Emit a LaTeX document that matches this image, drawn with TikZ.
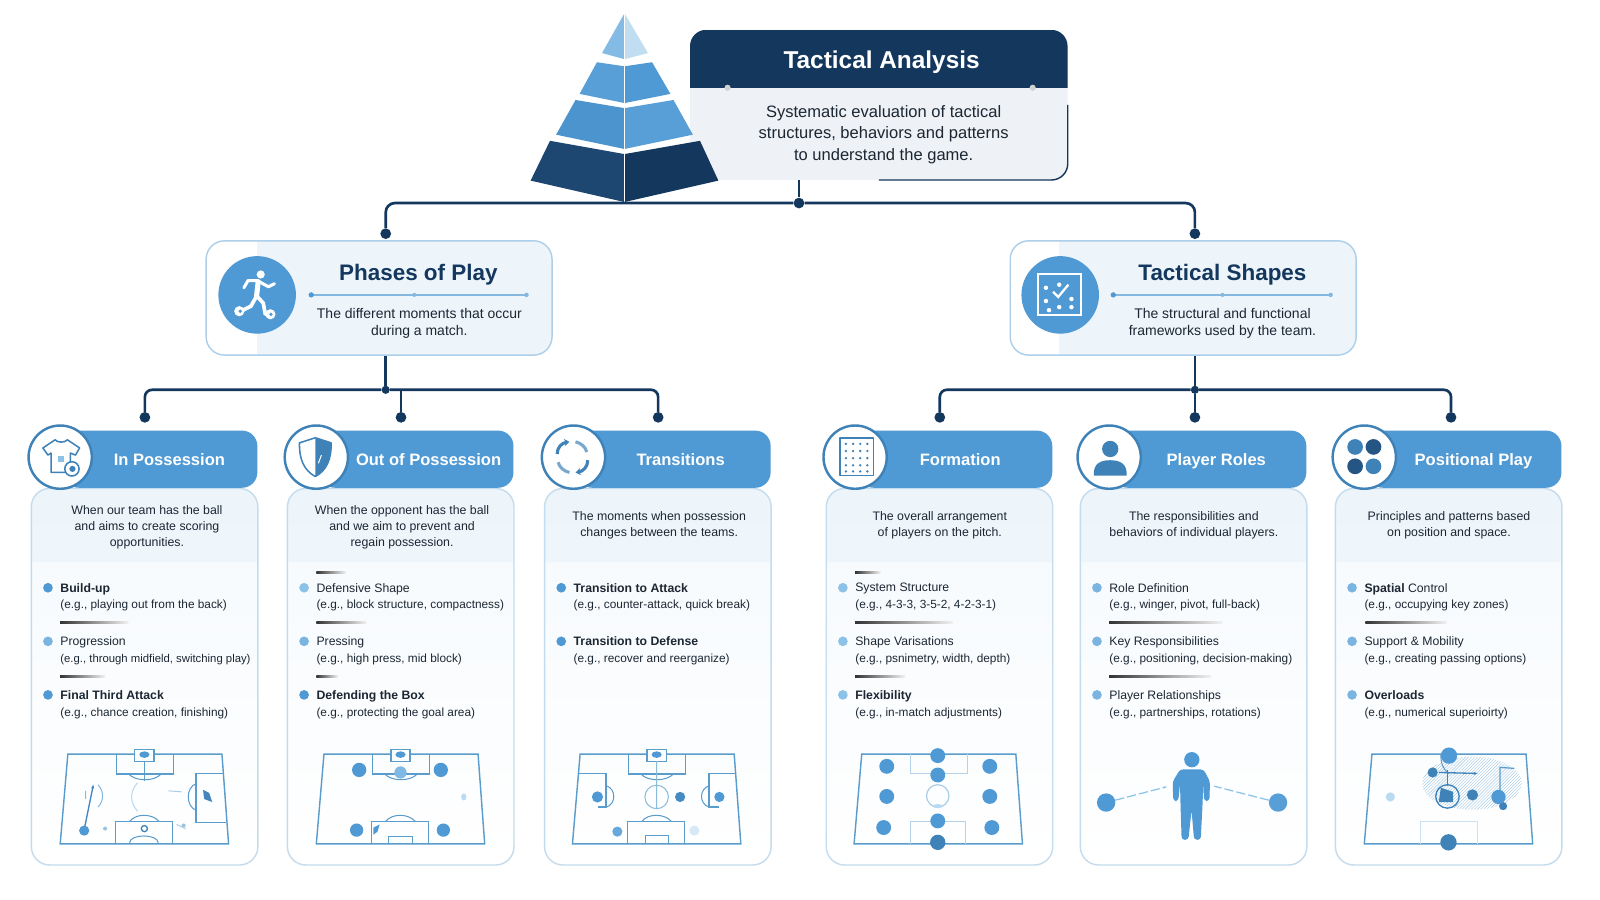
\documentclass[tikz,border=0pt]{standalone}
\usepackage{fontspec}
\setmainfont{Liberation Sans}
\usetikzlibrary{
    arrows.meta,
    calc,
    patterns
}
\definecolor{navy}{HTML}{14375E}
\definecolor{bandblue}{HTML}{4F99D4}
\definecolor{token}{HTML}{4F99D4}
\definecolor{ringblue}{HTML}{3F82B8}
\definecolor{softblue}{HTML}{8CC1E8}
\definecolor{cardedge}{HTML}{C4DCEE}
\definecolor{paleblue}{HTML}{EDF5FB}
\definecolor{pitchblue}{HTML}{5A9CCC}
\definecolor{ink}{HTML}{1C2733}
\definecolor{greybody}{HTML}{EEF1F5}
\newcommand{\exfont}{\fontsize{11.6}{16.3}\selectfont}

\begin{document}
\begin{tikzpicture}[
        x=1pt, y=-1pt,
        link/.style={draw=navy, line width=2.6pt},
        linkdot/.style={circle, fill=navy, inner sep=0pt, minimum size=10.5pt},
        hubdot/.style={circle, fill=navy, inner sep=0pt, minimum size=8pt},
        phasebox/.style={rectangle, rounded corners=18pt, draw=cardedge!80!bandblue, line width=1.4pt, fill=white, minimum width=339pt, minimum height=112pt, inner sep=0pt},
        phasehead/.style={font=\fontsize{22}{26}\selectfont\bfseries, text=navy, inner sep=0pt},
        phasetext/.style={font=\fontsize{13.7}{17}\selectfont, text=ink, align=center, inner sep=0pt},
        phaseicon/.style={circle, fill=bandblue, inner sep=0pt, minimum size=76pt},
        cardbox/.style={rectangle, rounded corners=18pt, draw=cardedge, line width=1.4pt, fill=white, minimum width=222pt, minimum height=369pt, anchor=north west, inner sep=0pt},
        band/.style={rectangle, rounded corners=15pt, fill=bandblue, minimum width=190pt, minimum height=56pt, anchor=west, inner sep=0pt},
        bandtext/.style={font=\fontsize{16.2}{20}\selectfont\bfseries, text=white, inner sep=0pt, anchor=base},
        iconring/.style={circle, fill=white, draw=ringblue, line width=2.4pt, minimum size=62pt, inner sep=0pt},
        cardtext/.style={font=\fontsize{12.1}{15.6}\selectfont, text=ink, align=center, inner sep=0pt},
        itemtext/.style={font=\fontsize{12}{16.3}\selectfont, text=ink, align=left, anchor=north west, inner sep=0pt},
        bullet/.style={circle, inner sep=0pt, minimum size=9.5pt},
        pitch/.style={draw=pitchblue, line width=1.4pt},
        iconline/.style={draw=ringblue, line width=1.5pt, line join=round}
    ]
    \useasboundingbox (0,0) rectangle (1568,882);
    \fill[white] (0,0) rectangle (1568,882);

    \node[rectangle, rounded corners=16pt, fill=greybody, minimum width=370pt, minimum height=147pt, anchor=north west, inner sep=0pt,
        path picture={\fill[navy, sharp corners] (path picture bounding box.north west) rectangle ([yshift=-57pt]path picture bounding box.north east);}] (titlebox) at (676,29) {};
    \draw[navy, line width=1.4pt, rounded corners=16pt] (titlebox.east) -- (titlebox.south east) -- (titlebox.south);
    \fill[gray!35] (713,86) circle (3pt) (1012,86) circle (3pt);
    \node[font=\fontsize{23.9}{28}\selectfont\bfseries, text=white, inner sep=0pt] (titlehead) at (864,61) {Tactical Analysis};
    \node[font=\fontsize{16.2}{21}\selectfont, text=ink, align=center, inner sep=0pt] (titletext) at (866,132) {Systematic evaluation of tactical\\structures, behaviors and patterns\\to understand the game.};

    \fill[softblue!85!bandblue] (612,13) -- (590,52) -- (612,58) -- cycle;
    \fill[softblue!55] (612,13) -- (635,52) -- (612,58) -- cycle;
    \fill[bandblue!85!softblue] (585,61) -- (612,65) -- (612,101) -- (568,92) -- cycle;
    \fill[bandblue] (639,61) -- (612,65) -- (612,101) -- (657,92) -- cycle;
    \fill[bandblue!95!navy] (564,98) -- (612,106) -- (612,146) -- (545,132) -- cycle;
    \fill[bandblue!85!softblue] (660,98) -- (612,106) -- (612,146) -- (679,132) -- cycle;
    \fill[navy!85!bandblue] (539,138) -- (612,151) -- (612,198) -- (520,177) -- cycle;
    \fill[navy] (686,138) -- (612,151) -- (612,198) -- (704,177) -- cycle;
    \draw[white, line width=0.8pt] (612,13) -- (612,198);

    \node[linkdot] (hubtop) at (783,199) {};
    \node[linkdot] (dotphase) at (378,229) {};
    \node[linkdot] (dotshape) at (1171,229) {};
    \draw[link] (titlebox.south -| hubtop) -- (hubtop);
    \draw[link, rounded corners=9pt] (hubtop) -| (dotphase);
    \draw[link, rounded corners=9pt] (hubtop) -| (dotshape);

    \node[phasebox, path picture={\fill[paleblue, sharp corners] ([xshift=50pt]path picture bounding box.south west) rectangle (path picture bounding box.north east);}] (phases) at (371.5,292) {};
    \node[phasebox, path picture={\fill[paleblue, sharp corners] ([xshift=48pt]path picture bounding box.south west) rectangle (path picture bounding box.north east);}] (shapes) at (1159.5,292) {};
    \node[phaseicon] (phaseicon) at (252,289) {};
    \node[phaseicon] (shapeicon) at (1039,289) {};
    \node[phasehead] (phasehead) at (410,269) {Phases of Play};
    \node[phasehead] (shapehead) at (1198,269) {Tactical Shapes};
    \node[phasetext] (phasetext) at (411,317) {The different moments that occur\\during a match.};
    \node[phasetext] (shapetext) at (1198,317) {The structural and functional\\frameworks used by the team.};
    \draw[bandblue!70, line width=1.2pt] (305,289) -- (516,289);
    \draw[bandblue!70, line width=1.2pt] (1091,289) -- (1304,289);
    \fill[bandblue] (305,289) circle (2.6pt);
    \fill[bandblue!70] (406,289) circle (2pt) (516,289) circle (2.2pt);
    \fill[bandblue] (1091,289) circle (2.6pt);
    \fill[bandblue!70] (1198,289) circle (2pt) (1304,289) circle (2.2pt);

    \fill[white] (255.5,269) circle (4pt);
    \draw[white, line width=5pt, line cap=round, line join=round] (253,276) -- (251.5,290);
    \draw[white, line width=3pt, line cap=round, line join=round] (253,275) -- (243,275) -- (239,282) (254,276) -- (263,281) -- (269,278);
    \draw[white, line width=3.6pt, line cap=round, line join=round] (251.5,290) -- (258,297) -- (260,308) (251,291) -- (246,300) -- (238,304);
    \fill[white] (234.5,305) circle (5pt) (265,308) circle (5pt);
    \fill[bandblue] (235.5,305) circle (1.8pt) (265.5,308) circle (1.8pt);

    \draw[white, line width=2.2pt] (1017,268.5) rectangle (1059,309);
    \foreach \px/\py in {1025/282, 1038/279, 1025/295, 1038/301, 1050/301, 1028/304, 1050/293}
        \fill[white] (\px,\py) circle (2.2pt);
    \draw[white, line width=2.2pt] (1032,286) -- (1037,291) -- (1047,279);

    \node[hubdot] (hubleft) at (378,382) {};
    \node[hubdot] (hubright) at (1171,382) {};
    \node[linkdot] (dotposs) at (142,409) {};
    \node[linkdot] (dotout) at (393,409) {};
    \node[linkdot] (dottrans) at (645,409) {};
    \node[linkdot] (dotform) at (921,409) {};
    \node[linkdot] (dotrole) at (1171,409) {};
    \node[linkdot] (dotplay) at (1422,409) {};
    \draw[link] (phases.south -| hubleft) -- (hubleft);
    \draw[link] (shapes.south -| hubright) -- (hubright);
    \draw[link, rounded corners=7pt] (hubleft) -| (dotposs);
    \draw[link, rounded corners=7pt] (hubleft) -| (dottrans);
    \draw[link] (hubleft -| dotout) -- (dotout);
    \draw[link, rounded corners=7pt] (hubright) -| (dotform);
    \draw[link, rounded corners=7pt] (hubright) -| (dotplay);
    \draw[link] (hubright) -- (dotrole);

    \foreach \n/\xl/\xt/\lbl in {1/30/166/In Possession, 2/281/420/Out of Possession, 3/533/667/Transitions, 4/809/941/Formation, 5/1058/1192/Player Roles, 6/1308/1444/Positional Play} {
        \pgfmathsetmacro{\bx}{\xl+32}
        \pgfmathsetmacro{\cx}{\xl+29}
        \node[cardbox, path picture={
            \shade[sharp corners, top color=paleblue, bottom color=paleblue!70] (path picture bounding box.north west) rectangle ([yshift=-73pt]path picture bounding box.north east);
            \shade[sharp corners, top color=paleblue!45, bottom color=white] ([yshift=-73pt]path picture bounding box.north west) rectangle (path picture bounding box.south east);}] (card\n) at (\xl,478) {};
        \node[band] (band\n) at (\bx,450) {};
        \node[iconring] (icon\n) at (\cx,448) {};
        \node[bandtext] (head\n) at (\xt,456) {\lbl};
    }

    \foreach \n/\cx/\cy/\txt in {1/144/516.5/{When our team has the ball\\and aims to create scoring\\opportunities.},
            2/394/516.5/{When the opponent has the ball\\and we aim to prevent and\\regain possession.},
            3/646/514.5/{The moments when possession\\changes between the teams.},
            4/921/514.5/{The overall arrangement\\of players on the pitch.},
            5/1170/514.5/{The responsibilities and\\behaviors of individual players.},
            6/1420/514.5/{Principles and patterns based\\on position and space.}} {
        \node[cardtext] (desc\n) at (\cx,\cy) {\txt};
    }

    \foreach \n/\xl/\yy/\col/\hd/\ex in {
            11/30/571.5/bandblue/{\textbf{Build-up}}/{(e.g., playing out from the back)},
            12/30/624/softblue!70!bandblue/{Progression}/{\fontsize{11.1}{16.3}\selectfont(e.g., through midfield, switching play)},
            13/30/676.5/bandblue/{\textbf{Final Third Attack}}/{(e.g., chance creation, finishing)},
            21/281/571.5/softblue/{Defensive Shape}/{(e.g., block structure, compactness)},
            22/281/624/softblue!70!bandblue/{Pressing}/{(e.g., high press, mid block)},
            23/281/676.5/bandblue/{\textbf{Defending the Box}}/{(e.g., protecting the goal area)},
            31/533/571.5/bandblue/{\textbf{Transition to Attack}}/{(e.g., counter-attack, quick break)},
            32/533/624/bandblue/{\textbf{Transition to Defense}}/{(e.g., recover and reerganize)},
            41/809/571.5/softblue/{System Structure}/{(e.g., 4-3-3, 3-5-2, 4-2-3-1)},
            42/809/624/softblue/{Shape Varisations}/{(e.g., psnimetry, width, depth)},
            43/809/676.5/softblue/{\textbf{Flexibility}}/{(e.g., in-match adjustments)},
            51/1058/571.5/softblue!70!bandblue/{Role Definition}/{(e.g., winger, pivot, full-back)},
            52/1058/624/softblue!70!bandblue/{Key Responsibilities}/{(e.g., positioning, decision-making)},
            53/1058/676.5/softblue!70!bandblue/{Player Relationships}/{(e.g., partnerships, rotations)},
            61/1308/571.5/softblue!70!bandblue/{\textbf{Spatial} Control}/{(e.g., occupying key zones)},
            62/1308/624/softblue!70!bandblue/{Support \& Mobility}/{(e.g., creating passing options)},
            63/1308/676.5/softblue!70!bandblue/{\textbf{Overloads}}/{(e.g., numerical superioirty)}} {
        \node[bullet, fill=\col] (mark\n) at ($(\xl,\yy)+(17,4.5)$) {};
        \node[itemtext] (item\n) at ($(\xl,\yy)+(29,0)$) {\hd\\\exfont\ex};
    }

    \foreach \xa/\xb/\yy in {59/126/610, 59/103/663, 310/339/561, 310/359/610, 310/331/663, 838/863/561, 838/934/610, 838/887/663, 1087/1198/610, 1087/1187/663, 1338/1418/610} {
        \shade[left color=black!80, middle color=black!30, right color=black!5] (\xa,\yy-0.7) rectangle (\xb,\yy+0.7);
    }

    \foreach \a in {59,310,561,837,1337} {
        \draw[pitch, shift={(\a,0)}] (7.5,739) -- (158.5,739) -- (165,827) -- (0,827) -- cycle;
    }
    \foreach \a in {59,310,561} {
        \draw[pitch, shift={(\a,0)}] (55,739) -- (55,758.5) -- (111,758.5) -- (111,739);
        \fill[white, shift={(\a,0)}] (73,734.5) rectangle (92,746.5);
        \draw[pitch, shift={(\a,0)}] (73,734.5) rectangle (92,746.5);
        \fill[token, shift={(\a,0)}] (82.5,739.5) ellipse [x radius=5, y radius=3.2];
        \draw[pitch, shift={(\a,0)}] (54,827) -- (54,805) -- (110,805) -- (110,827);
        \draw[pitch, line width=1pt, shift={(\a,0)}] (67,758.5) .. controls (74,766) and (92,766) .. (99,758.5);
        \draw[pitch, line width=1pt, shift={(\a,0)}] (68,805) .. controls (74,797) and (90,797) .. (97,805);
    }

    \draw[pitch, line width=1pt] (141.5,746.5) -- (141.5,765);
    \draw[pitch] (219,758) -- (192,758) -- (192,806) -- (221,806);
    \draw[pitch, line width=1pt] (192,768) .. controls (182,772) and (182,790) .. (192,794);
    \fill[token!80!navy] (199,774) -- (205,777) -- (208,786) -- (200,783) -- cycle;
    \draw[pitchblue!40, line width=1pt] (135,767) .. controls (127,775) and (127,787) .. (135,795);
    \draw[pitchblue!70, line width=1pt] (96,769) .. controls (102,775) and (102,785) .. (96,791) (84,775) -- (84,783);
    \draw[token!80!navy, line width=1.3pt, -{Stealth[length=4pt]}] (82.5,813) -- (91.5,769);
    \fill[token] (82.5,814) circle (5pt);
    \draw[pitch, line width=1pt] (127,826) .. controls (127,817) and (155,817) .. (155,826);
    \draw[ringblue, line width=1.3pt] (141.5,812) circle (3pt);
    \fill[pitchblue!60] (103,812) circle (2pt) (180,809) circle (2pt);
    \draw[pitchblue!50, line width=1pt] (165,775) -- (178,776) (173,808) -- (182,812);

    \fill[token] (352,754.5) circle (7pt) (432,754.5) circle (7pt) (349.5,813.5) circle (6.5pt) (434.5,813.5) circle (6.5pt);
    \fill[softblue!80!bandblue] (392.5,757) circle (6pt);
    \draw[pitch, line width=1pt] (380.5,827) -- (380.5,820) -- (404.5,820) -- (404.5,827);
    \fill[softblue!60] (454.5,781) ellipse [x radius=2.5, y radius=3.5];
    \fill[token] (366,811) -- (372,808) -- (370,815) -- (366,818) -- cycle;

    \draw[pitch] (567.5,758) -- (594,758) -- (594,791) -- (586,791) (720,758) -- (695,758) -- (695,791) -- (705,791);
    \draw[pitch, line width=1pt] (594,770) .. controls (604,773) and (604,788) .. (594,791);
    \draw[pitch, line width=1pt] (695,770) .. controls (685,773) and (685,788) .. (695,791);
    \draw[pitchblue!70, line width=1pt] (643.5,781) circle (11.5pt) (643.5,746) -- (643.5,792);
    \draw[pitch, line width=1pt] (632.5,827) -- (632.5,819) -- (655,819) -- (655,827);
    \fill[token] (585.5,781) circle (5.5pt) (705,781) circle (5pt);
    \fill[token!85!navy] (666.5,781) circle (5pt);
    \fill[token!85] (605,815) circle (5pt);
    \fill[softblue!35] (680.5,814) circle (5pt);

    \draw[pitchblue!45, line width=1pt] (892,739) -- (892,758) -- (948,758) -- (948,739) (892,827) -- (892,805) -- (946,805) -- (946,827);
    \draw[pitchblue!50, line width=1.2pt] (919,780) circle (11pt);
    \fill[softblue!60] (919,790) ellipse [x radius=5, y radius=2];
    \foreach \px/\py in {919/740.5, 919/759.5, 919/804.5, 869/751, 869/780.5, 866/811, 970/751, 970/780.5, 972/811}
        \fill[token] (\px,\py) circle (7.3pt);
    \fill[ringblue] (919,825.5) circle (7.5pt);

    \fill[token] (1168,744.5) circle (7.5pt);
    \fill[token, rounded corners=3pt] (1156.5,754) -- (1179.5,754) -- (1185.8,766) -- (1185.2,785) -- (1180,785) -- (1179.3,768) -- (1178.3,792) -- (1176.7,823) -- (1170.2,823) -- (1167.7,794) -- (1164.6,823) -- (1158,823) -- (1157,792) -- (1156.4,768) -- (1154.7,785) -- (1149.8,785) -- (1149.2,766) -- cycle;
    \node[circle, fill=bandblue, inner sep=0pt, minimum size=18pt] (roleleft) at (1084,786.5) {};
    \node[circle, fill=bandblue!85!softblue, inner sep=0pt, minimum size=18pt] (roleright) at (1252.5,786.5) {};
    \draw[softblue, dash pattern=on 9pt off 3pt, line width=1.2pt, -{Stealth[length=3pt]}] (roleleft) -- (1143.5,771);
    \draw[softblue, dash pattern=on 9pt off 3pt, line width=1.2pt] (roleright) -- (1190,770.5);

    \draw[pitchblue!30, line width=1pt] (1392,827) -- (1392,805) -- (1448,805) -- (1448,827);
    \fill[white] (1442.5,767.5) ellipse [x radius=48.7, y radius=26];
    \fill[pattern=north east lines, pattern color=pitchblue!55] (1442.5,767.5) ellipse [x radius=48.7, y radius=26];
    \draw[pitch, line width=1pt] (1412,739) .. controls (1412,748) and (1414,754) .. (1420,758);
    \draw[ringblue, line width=1.3pt] (1418.5,780.5) circle (11.5pt);
    \fill[ringblue] (1404,757) circle (5pt) (1443,779) circle (5.5pt) (1473,790) circle (4pt) (1412,772) -- (1424,776) -- (1424,786) -- (1410,786) -- cycle;
    \fill[token] (1468.5,781) circle (7pt) (1420,740.5) circle (8pt);
    \fill[ringblue] (1419.5,825.5) circle (8pt);
    \fill[softblue!60] (1362.5,781) circle (4.5pt);
    \draw[ringblue, line width=1.3pt, -{Stealth[length=4pt]}] (1410,757) -- (1448,758);
    \draw[ringblue, line width=1pt] (1419,755) -- (1419,770);
    \draw[pitch, line width=1.2pt] (1470,775) -- (1470,752) -- (1484,753);

    \begin{scope}[shift={(59,448)}]
        \draw[iconline] (-5,-17) .. controls (-3,-14) and (5,-14) .. (7,-17) -- (19,-9) -- (15,-2) -- (10,-4) -- (10,15) -- (-9,15) -- (-9,-4) -- (-12,-2) -- (-17,-9) -- cycle;
        \draw[iconline, fill=white] (11.5,11.5) circle (7pt);
        \fill[ringblue] (12,11.5) circle (3pt);
        \fill[softblue] (-2,-1) rectangle (4,5);
    \end{scope}
    \begin{scope}[shift={(309,448)}]
        \fill[ringblue] (0,-19) -- (15.5,-14) .. controls (16,2) and (11,13) .. (0,19) -- cycle;
        \draw[iconline] (0,-19) -- (15.5,-14) .. controls (16,2) and (11,13) .. (0,19) .. controls (-11,13) and (-16,2) .. (-15.5,-14) -- cycle;
        \draw[white, line width=1pt] (6,-2) -- (3,6);
    \end{scope}
    \begin{scope}[shift={(561,448)}]
        \draw[ringblue, line width=3pt, -{Stealth[length=5pt,width=7pt]}] (-15,-3) .. controls (-15,-10) and (-10,-14) .. (-3,-15);
        \draw[ringblue!70, line width=3pt] (3,-15) .. controls (8,-14) and (13,-10) .. (14,-5);
        \draw[ringblue, line width=3pt, -{Stealth[length=5pt,width=7pt]}] (15,3) .. controls (15,10) and (10,14) .. (3,15);
        \draw[ringblue!70, line width=3pt] (-3,15) .. controls (-8,14) and (-13,10) .. (-14,5);
    \end{scope}
    \begin{scope}[shift={(839,448)}]
        \draw[iconline] (-16,-19) rectangle (17,18);
        \foreach \px in {-10,-3,4,11}
            \foreach \py in {-13,-6,1,8,14}
                \fill[ringblue] (\px,\py) circle (1.3pt);
    \end{scope}
    \begin{scope}[shift={(1087,448)}]
        \fill[ringblue] (1,-8) circle (8pt);
        \fill[ringblue] (-15,18) .. controls (-16,6) and (-8,3) .. (1,3) .. controls (10,3) and (18,6) .. (17,18) -- cycle;
    \end{scope}
    \begin{scope}[shift={(1337,448)}]
        \fill[ringblue] (-9,-10) circle (7.7pt) (9,9) circle (7.7pt);
        \fill[navy!60!ringblue] (9,-10) circle (7.7pt) (-9,9) circle (7.7pt);
    \end{scope}
\end{tikzpicture}
\end{document}
